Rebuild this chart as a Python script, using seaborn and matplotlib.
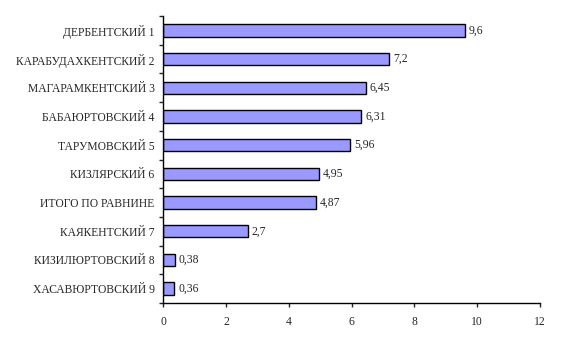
import matplotlib
matplotlib.use("Agg")
import matplotlib.pyplot as plt
import seaborn as sns
import numpy as np
import pandas as pd

# districts and values (top to bottom as in the picture)
districts = ["ДЕРБЕНТСКИЙ 1", "КАРАБУДАХКЕНТСКИЙ 2", "МАГАРАМКЕНТСКИЙ 3",
             "БАБАЮРТОВСКИЙ 4", "ТАРУМОВСКИЙ 5", "КИЗЛЯРСКИЙ 6",
             "ИТОГО ПО РАВНИНЕ", "КАЯКЕНТСКИЙ 7", "КИЗИЛЮРТОВСКИЙ 8",
             "ХАСАВЮРТОВСКИЙ 9"]
values = [9.6, 7.2, 6.45, 6.31, 5.96, 4.95, 4.87, 2.7, 0.38, 0.36]
value_labels = ["9,6", "7,2", "6,45", "6,31", "5,96", "4,95", "4,87", "2,7", "0,38", "0,36"]

df = pd.DataFrame({"district": districts, "value": values})

sns.set_style("white")
plt.rcParams["font.family"] = ["Liberation Serif", "DejaVu Serif"]
plt.rcParams["font.size"] = 8.4

fig = plt.figure(figsize=(5.62, 3.53), dpi=100)
ax = fig.add_axes([0.290, 0.1416, 0.671, 0.813])

sns.barplot(data=df, x="value", y="district", orient="h", color="#9999FF",
            saturation=1, edgecolor="black", linewidth=1, width=0.43, ax=ax)

for i, (v, lab) in enumerate(zip(values, value_labels)):
    ax.text(v + 0.12, i, lab, va="center", ha="left", fontsize=8.4)

ax.set_xlim(0, 12)
ax.set_xticks(range(0, 13, 2))
ax.set_ylim(len(districts) - 0.5, -0.5)
ax.set_xlabel("")
ax.set_ylabel("")

# category ticks sit between bars, like the original
ax.set_yticks(np.arange(-0.5, len(districts), 1), minor=True)
ax.tick_params(axis="y", which="major", length=0, pad=6)
ax.tick_params(axis="y", which="minor", length=3, width=1, direction="out", left=True)
ax.tick_params(axis="x", length=3, width=1, direction="out", bottom=True, pad=6)

sns.despine(ax=ax)
for s in ["left", "bottom"]:
    ax.spines[s].set_color("black")
    ax.spines[s].set_linewidth(1)

fig.savefig("out.png", dpi=100)
